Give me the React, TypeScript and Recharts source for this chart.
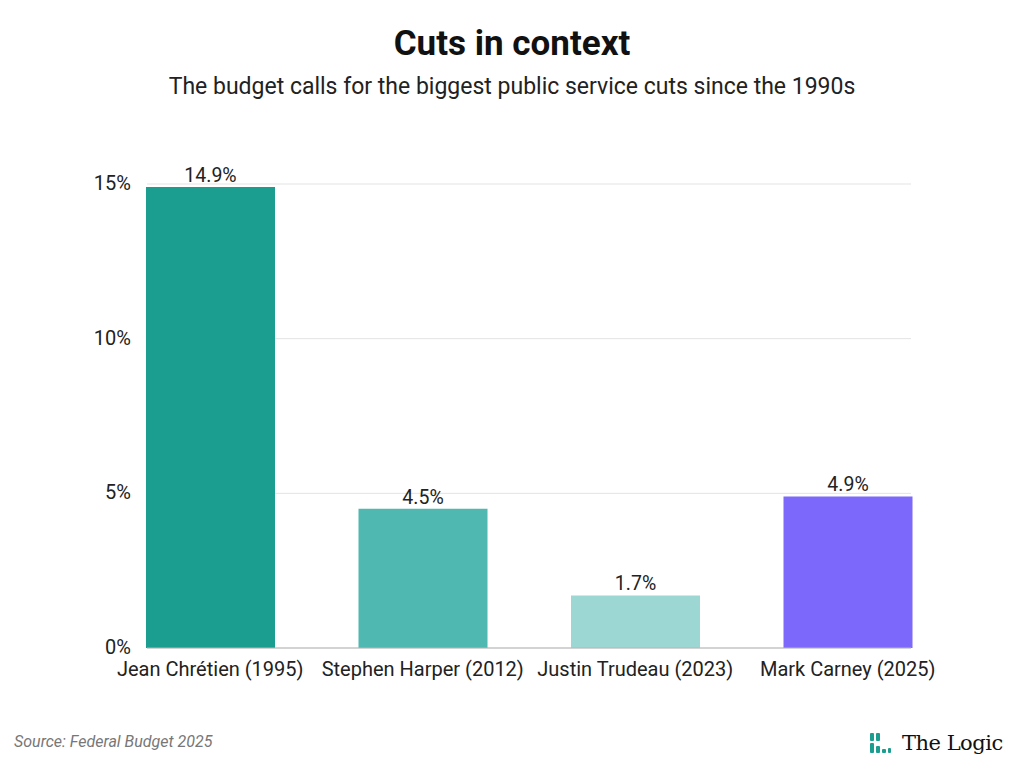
import { BarChart, Bar, XAxis, YAxis, CartesianGrid, LabelList, Cell } from 'recharts';

const leaders = ['Jean Chrétien (1995)', 'Stephen Harper (2012)', 'Justin Trudeau (2023)', 'Mark Carney (2025)'];
const cuts = [14.9, 4.5, 1.7, 4.9];
const barColors = ['#1b9d8f', '#4fb8b1', '#9dd7d3', '#7c69fb'];
const yTicks = [0, 5, 10, 15];

const data = leaders.map((name, i) => ({ name, value: cuts[i] }));

const font = 'Roboto, "Noto Sans", sans-serif';

function LogicMark() {
  return (
    <svg width="24" height="24" viewBox="0 0 24 24">
      <rect x="2" y="2" width="4" height="8" rx="1" fill="#1b9d8f" />
      <rect x="8" y="2" width="4" height="8" rx="1" fill="#1b9d8f" />
      <rect x="2" y="12" width="4" height="10" rx="1" fill="#1b9d8f" />
      <rect x="8" y="15" width="4" height="7" rx="1" fill="#1b9d8f" />
      <rect x="14" y="18" width="4" height="4" rx="1" fill="#1b9d8f" />
      <rect x="20" y="17" width="3" height="5" rx="1" fill="#1b9d8f" />
    </svg>
  );
}

export default function App() {
  return (
    <div style={{ position: 'relative', width: 1024, height: 768, background: '#fff', fontFamily: font }}>
      <style>{'body{margin:0}'}</style>
      <div style={{ position: 'absolute', top: 23, width: 1024, textAlign: 'center', fontSize: 35, fontWeight: 700, color: '#111' }}>
        Cuts in context
      </div>
      <div style={{ position: 'absolute', top: 73, width: 1024, textAlign: 'center', fontSize: 23, color: '#222' }}>
        The budget calls for the biggest public service cuts since the 1990s
      </div>

      <div style={{ position: 'absolute', top: 0, left: 0 }}>
        <BarChart
          width={1024}
          height={768}
          data={data}
          margin={{ top: 184, right: 113, bottom: 80, left: 87 }}
          barCategoryGap={42}
        >
          <CartesianGrid vertical={false} stroke="#e3e3e3" />
          <XAxis
            dataKey="name"
            padding={{ left: -43, right: -43 }}
            tickLine={false}
            axisLine={{ stroke: '#b5b5b5' }}
            tickMargin={8}
            height={40}
            tick={{ fill: '#222', fontSize: 20, fontFamily: font }}
            interval={0}
          />
          <YAxis
            width={60}
            domain={[0, 15]}
            ticks={yTicks}
            tickFormatter={(v: number) => `${v}%`}
            axisLine={false}
            tickLine={false}
            tickSize={0}
            tickMargin={16}
            tick={{ fill: '#222', fontSize: 20, fontFamily: font, dy: -1 }}
          />
          <Bar dataKey="value" isAnimationActive={false}>
            {data.map((d, i) => (
              <Cell key={d.name} fill={barColors[i]} />
            ))}
            <LabelList
              dataKey="value"
              position="top"
              offset={5}
              formatter={(v: number) => `${v}%`}
              style={{ fill: '#222', fontSize: 19.5, fontFamily: font }}
            />
          </Bar>
        </BarChart>
      </div>

      <div style={{ position: 'absolute', left: 14, top: 732, fontSize: 16, fontStyle: 'italic', color: '#777' }}>
        Source: Federal Budget 2025
      </div>
      <div style={{ position: 'absolute', left: 868, top: 731, display: 'flex', alignItems: 'center', gap: 10 }}>
        <LogicMark />
        <span style={{ fontFamily: '"DejaVu Serif", "Liberation Serif", serif', fontSize: 21, color: '#111', letterSpacing: -0.5 }}>
          The Logic
        </span>
      </div>
    </div>
  );
}
